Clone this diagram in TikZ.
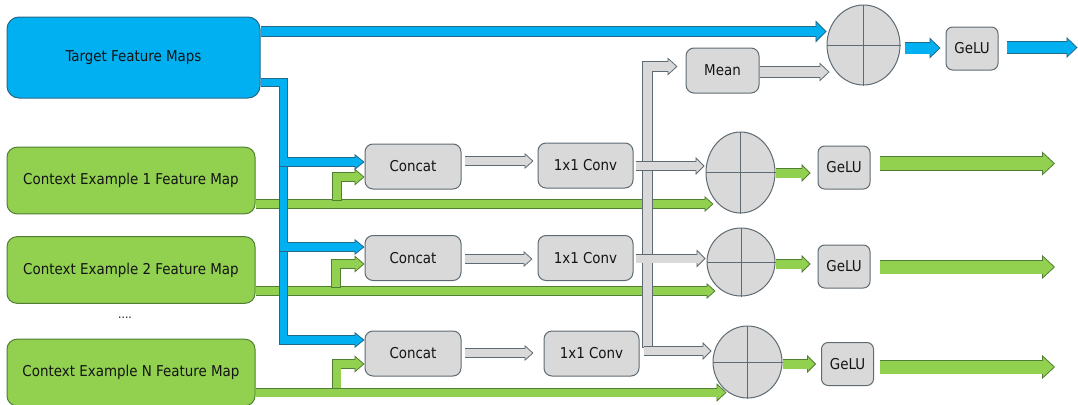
\documentclass[tikz,border=0pt]{standalone}
\usepackage{fontspec}
\setmainfont{DejaVu Sans Condensed}
\usetikzlibrary{arrows.meta,shapes.geometric,calc}

\definecolor{bluefill}{HTML}{00B0F0}
\definecolor{blueedge}{HTML}{24698A}
\definecolor{greenfill}{HTML}{92D050}
\definecolor{greenedge}{HTML}{507E32}
\definecolor{grayfill}{HTML}{D9D9D9}
\definecolor{grayedge}{HTML}{5F6B73}
\definecolor{ink}{HTML}{141414}

% Block arrow: #1 colour set (blue/green/gray), #2 shaft width,
% #3 head width, #4 head length, #5 path
\newcommand\blockarrow[5]{%
  \draw[#1edge, line width=#2+1.2pt, shorten >=#4-0.5pt, line join=miter] #5;
  \draw[#1edge, line width=0.6pt,
        -{Triangle[length=#4, width=#3, fill=#1fill, line width=0.6pt]}] #5;
  \draw[#1fill, line width=#2, shorten >=#4-1.2pt, shorten <=0.6pt, line join=miter] #5;
}

\tikzset{
  box/.style={draw, line width=0.75pt, font=\fontsize{11.2}{13}\selectfont,
              text=ink, inner sep=0pt},
  targetbox/.style={box, fill=bluefill, draw=blueedge, rounded corners=9pt,
                    minimum width=189.75pt, minimum height=60.75pt},
  ctxbox/.style={box, fill=greenfill, draw=greenedge, rounded corners=7.5pt,
                 minimum width=186pt, minimum height=50pt},
  opbox/.style={box, fill=grayfill, draw=grayedge, rounded corners=6pt,
                minimum height=33.75pt},
  gelubox/.style={opbox, rounded corners=5pt, minimum width=39pt, minimum height=32.25pt},
  sumnode/.style={ellipse, draw=grayedge, fill=grayfill, line width=0.75pt, inner sep=0pt},
  sumcross/.style={grayedge, line width=0.75pt},
}

\begin{document}
\begin{tikzpicture}[x=0.75pt, y=-0.75pt]
\useasboundingbox (0,0) rectangle (1078,404);

% ---- input feature maps
\node[targetbox] (target) at (133.5,57.5) {Target Feature Maps};
\node[ctxbox] (ctx1) at (131,180.5) {Context Example 1 Feature Map};
\node[ctxbox] (ctx2) at (131,270) {Context Example 2 Feature Map};
\node[ctxbox] (ctxN) at (131,372.5) {Context Example N Feature Map};
\node[font=\fontsize{9}{10}\selectfont, text=ink] (dots) at (125,318) {....};

% ---- per-example processing
\node[opbox, minimum width=72pt] (cat1) at (413,166.5) {Concat};
\node[opbox, minimum width=72pt] (cat2) at (413,258) {Concat};
\node[opbox, minimum width=72pt] (cat3) at (413,353.5) {Concat};
\node[opbox, minimum width=71.25pt] (conv1) at (585.5,165.5) {1x1 Conv};
\node[opbox, minimum width=71.25pt] (conv2) at (585.5,258) {1x1 Conv};
\node[opbox, minimum width=71.25pt] (conv3) at (591.5,353.5) {1x1 Conv};
\node[opbox, minimum width=54.75pt] (mean) at (722.5,70.5) {Mean};

% ---- sums
\node[sumnode, minimum width=54.75pt, minimum height=60pt] (sum0) at (863.5,45) {};
\node[sumnode, minimum width=51.75pt, minimum height=60.75pt] (sum1) at (740.5,172.5) {};
\node[sumnode, minimum width=51pt, minimum height=51pt] (sum2) at (741,262) {};
\node[sumnode, minimum width=51.75pt, minimum height=54pt] (sum3) at (747.5,362) {};
\foreach \s in {sum0,sum1,sum2,sum3}
  \draw[sumcross] (\s.north) -- (\s.south) (\s.west) -- (\s.east);

% ---- activations
\node[gelubox] (gelu0) at (972,48.5) {GeLU};
\node[gelubox] (gelu1) at (844,167.5) {GeLU};
\node[gelubox] (gelu2) at (844,266.5) {GeLU};
\node[gelubox] (gelu3) at (847.5,364) {GeLU};

% ---- helper points
\coordinate (bus) at (283.5,82.5);
\coordinate (g1) at (337,200.5);
\coordinate (g2) at (336,287.5);
\coordinate (g3) at (336.5,388.5);
\coordinate (c3) at (647.5,347.5);
\coordinate (out0) at (1077.5,47.5);
\coordinate (out1) at (1055,163.5);
\coordinate (out2) at (1055,267);
\coordinate (out3) at (1055,367);

% ---- context feature maps straight to the sums
\blockarrow{green}{6pt}{12pt}{6.75pt}{(ctx1.east |- 0,204) -- ($(sum1.west |- 0,204)+(8,0)$)}
\blockarrow{green}{6pt}{12pt}{6.75pt}{(ctx2.east |- 0,291) -- ($(sum2.west |- 0,291)+(9,0)$)}
\blockarrow{green}{6pt}{14pt}{7.5pt}{(ctxN.east |- 0,392.5) -- ($(sum3.west |- 0,392.5)+(14,0)$)}
% ---- context feature maps into the concatenations
\blockarrow{green}{6pt}{12.75pt}{7.5pt}{(g1) |- (cat1.west |- 0,177)}
\blockarrow{green}{6pt}{12.75pt}{7.5pt}{(g2) |- (cat2.west |- 0,264)}
\blockarrow{green}{6pt}{12.75pt}{7.5pt}{(g3) |- (cat3.west |- 0,364)}

% ---- target feature maps into the concatenations
\blockarrow{blue}{5.6pt}{12pt}{7.5pt}{(target.east |- bus) -- (bus) |- (cat3.west |- 0,340)}
\blockarrow{blue}{5.6pt}{12pt}{7.5pt}{(target.east |- bus) -- (bus) |- (cat2.west |- 0,247)}
\blockarrow{blue}{5.6pt}{12pt}{7.5pt}{(target.east |- bus) -- (bus) |- (cat1.west |- 0,162)}
% ---- target feature maps to the top sum
\blockarrow{blue}{6.75pt}{16.5pt}{8.25pt}{(target.east |- 0,31.5) -- (sum0.west |- 0,31.5)}

% ---- convolved maps collected for the mean
\blockarrow{gray}{6.75pt}{13.5pt}{7.5pt}{(c3) |- ($(mean.west |- 0,66.5)+(-8,0)$)}
\blockarrow{gray}{7.5pt}{14.25pt}{7.5pt}{(mean.east |- 0,72) -- ($(sum0.west |- 0,72)+(3,0)$)}

% ---- concat -> conv -> sum
\blockarrow{gray}{6pt}{12pt}{6.75pt}{($(cat1.east |- 0,161)+(3,0)$) -- ($(conv1.west |- 0,161)+(-4,0)$)}
\blockarrow{gray}{6pt}{12pt}{6.75pt}{($(cat2.east |- 0,259)+(3,0)$) -- ($(conv2.west |- 0,259)+(-5,0)$)}
\blockarrow{gray}{6pt}{12pt}{6.75pt}{($(cat3.east |- 0,353)+(3,0)$) -- ($(conv3.west |- 0,353)+(-10,0)$)}
\blockarrow{gray}{6pt}{13.5pt}{6.75pt}{($(conv1.east |- 0,166)+(2,0)$) -- ($(sum1.west |- 0,166)+(-1,0)$)}
\blockarrow{gray}{6pt}{13.5pt}{6.75pt}{($(conv2.east |- 0,258.5)+(2,0)$) -- ($(sum2.west |- 0,258.5)+(-1,0)$)}
\blockarrow{gray}{6pt}{13.5pt}{6.75pt}{($(conv3.east |- 0,351)+(4,0)$) -- ($(sum3.west |- 0,351)+(-1,0)$)}

% ---- sums -> GeLU -> outputs
\blockarrow{blue}{8.25pt}{15.75pt}{8.25pt}{($(sum0.east |- 0,48)+(4,0)$) -- ($(gelu0.west |- 0,48)+(-5,0)$)}
\blockarrow{blue}{8.25pt}{15.75pt}{8.25pt}{($(gelu0.east |- out0)+(8,0)$) -- (out0)}
\blockarrow{green}{6.75pt}{13.5pt}{6.75pt}{(sum1.east |- 0,173) -- ($(gelu1.west |- 0,173)+(-7,0)$)}
\blockarrow{green}{6.75pt}{13.5pt}{6.75pt}{(sum2.east |- 0,264) -- ($(gelu2.west |- 0,264)+(-7,0)$)}
\blockarrow{green}{6.75pt}{13.5pt}{6.75pt}{(sum3.east |- 0,364) -- ($(gelu3.west |- 0,364)+(-5,0)$)}
\blockarrow{green}{9.75pt}{18pt}{9.75pt}{($(gelu1.east |- out1)+(9,0)$) -- (out1)}
\blockarrow{green}{9.75pt}{18pt}{9.75pt}{($(gelu2.east |- out2)+(9,0)$) -- (out2)}
\blockarrow{green}{9.75pt}{18pt}{9.75pt}{($(gelu3.east |- out3)+(5.5,0)$) -- (out3)}
\end{tikzpicture}
\end{document}
